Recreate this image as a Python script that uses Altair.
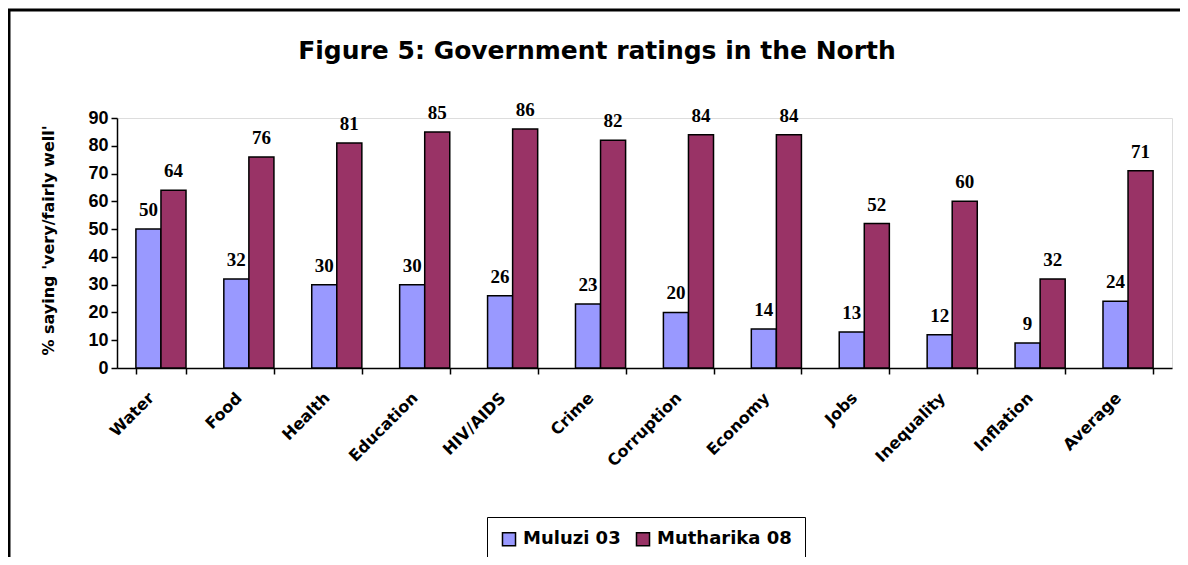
import altair as alt
import pandas as pd

categories = ["Water", "Food", "Health", "Education", "HIV/AIDS", "Crime",
              "Corruption", "Economy", "Jobs", "Inequality", "Inflation", "Average"]
muluzi_03 = [50, 32, 30, 30, 26, 23, 20, 14, 13, 12, 9, 24]
mutharika_08 = [64, 76, 81, 85, 86, 82, 84, 84, 52, 60, 32, 71]
series_names = ["Muluzi 03", "Mutharika 08"]
series_colors = ["#9999FF", "#993366"]
y_ticks = [0, 10, 20, 30, 40, 50, 60, 70, 80, 90]
title_text = ["Figure 5: Government ratings in the North"]

rows = []
for i, c in enumerate(categories):
    rows.append({"category": c, "series": series_names[0], "value": muluzi_03[i]})
    rows.append({"category": c, "series": series_names[1], "value": mutharika_08[i]})
df = pd.DataFrame(rows)

gothic = "DejaVu Sans"

x_enc = alt.X("category:N", sort=categories, title=None,
              scale=alt.Scale(paddingInner=0.43, paddingOuter=0.215),
              axis=alt.Axis(labelAngle=-45, labelAlign="right", labelBaseline="middle",
                            labelFont=gothic, labelFontSize=16, labelFontWeight="bold",
                            labelColor="black", labelPadding=21, labelOffset=-10,
                            tickBand="extent", tickSize=6, tickColor="black",
                            domainColor="black", domainWidth=1.5, tickWidth=1.5))
xoff_enc = alt.XOffset("series:N", sort=series_names, scale=alt.Scale(paddingInner=0, paddingOuter=0))
y_enc = alt.Y("value:Q", title="% saying 'very/fairly well'",
              scale=alt.Scale(domain=[0, 90], nice=False),
              axis=alt.Axis(values=y_ticks, grid=False, labelFont="Liberation Sans",
                            labelFontSize=18, labelFontWeight="bold", labelColor="black",
                            labelOverlap=False,
                            tickSize=6, tickColor="black", tickWidth=1.5,
                            domainColor="black", domainWidth=1.5, labelPadding=3,
                            titleFont=gothic, titleFontSize=16, titleFontWeight="bold",
                            titleColor="black", titleX=-69, titleY=122, titleAngle=-90,
                            titleAlign="center", titleBaseline="middle"))
color_enc = alt.Color("series:N", sort=series_names,
                      scale=alt.Scale(domain=series_names, range=series_colors),
                      legend=alt.Legend(title=None, orient="none", legendX=370, legendY=399,
                                        direction="horizontal", columns=2,
                                        labelFont=gothic, labelFontSize=18,
                                        labelFontWeight="bold", labelColor="black",
                                        symbolType="square", symbolSize=170,
                                        symbolStrokeColor="black", symbolStrokeWidth=1.5,
                                        symbolOpacity=1,
                                        strokeColor="black", fillColor="white",
                                        padding=13, columnPadding=12, labelOffset=5))

base = alt.Chart(df)
bars = base.mark_bar(stroke="black", strokeWidth=1.5, opacity=1).encode(
    x=x_enc, xOffset=xoff_enc, y=y_enc, color=color_enc)
labels = base.mark_text(font="Liberation Serif", fontSize=19, fontWeight="bold",
                        color="black", baseline="bottom", dy=-9).encode(
    x=x_enc, xOffset=xoff_enc, y=y_enc, text="value:Q")

border = alt.Chart(pd.DataFrame({"a": [0]})).mark_rect(
    fill=None, stroke="black", strokeWidth=3).encode(
    x=alt.value(-108), x2=alt.value(1100), y=alt.value(-108), y2=alt.value(520))

title = alt.Chart(pd.DataFrame({"t": title_text})).mark_text(
    font=gothic, fontSize=25, fontWeight="bold", color="black",
    align="center", baseline="alphabetic").encode(
    x=alt.value(480), y=alt.value(-59), text="t:N")

chart = alt.layer(border, bars, labels, title).properties(
    width=1055, height=250,
    autosize=alt.AutoSizeParams(type="none"),
    padding={"left": 109, "top": 110, "right": 8, "bottom": 189},
).configure_view(stroke="#888888", strokeWidth=1.5).configure(background="white")

chart.save("out.html", embed_options={"renderer": "svg", "actions": False})
